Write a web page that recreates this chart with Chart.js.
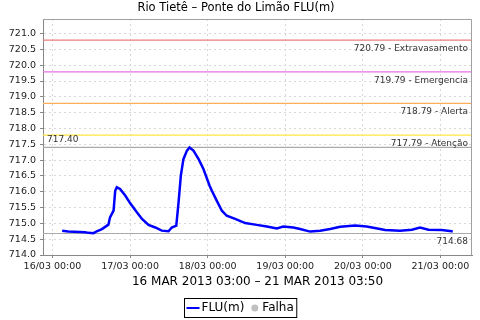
<!DOCTYPE html>
<html lang="pt">
<head>
<meta charset="utf-8">
<title>Rio Tietê - Ponte do Limão FLU(m)</title>
<script src="https://cdn.jsdelivr.net/npm/chart.js@4.4.1/dist/chart.umd.min.js"></script>
<style>
  body { margin: 0; padding: 0; background: #fff; }
</style>
</head>
<body>
<canvas id="chart" width="480" height="320"></canvas>
<script>
// hours counted from 16/03/2013 00:00
const hours = [3.0, 4.9, 10.1, 11.1, 12.7, 13.7, 15.3, 16.3, 17.3, 17.8, 18.9, 19.4, 19.9, 20.9, 22.5,
  24.0, 26.1, 27.7, 29.7, 31.8, 33.8, 35.9, 36.9, 38.3, 39.0, 39.7, 40.5, 41.6, 42.4, 43.6, 45.2,
  46.7, 48.6, 49.3, 50.8, 52.4, 53.9, 56.5, 59.6, 62.7, 66.3, 69.4, 71.4, 74.5, 76.6, 79.7, 82.8,
  85.9, 89.0, 93.6, 97.2, 101.3, 102.9, 107.5, 111.2, 113.7, 116.3, 120.4, 123.5, 123.83];
const levels = [714.77, 714.74, 714.72, 714.70, 714.69, 714.75, 714.82, 714.89, 714.96, 715.19, 715.40, 716.03, 716.14, 716.09, 715.88,
  715.64, 715.35, 715.14, 714.95, 714.87, 714.77, 714.75, 714.87, 714.93, 715.66, 716.50, 717.03, 717.30, 717.40, 717.30, 717.03,
  716.72, 716.19, 716.03, 715.72, 715.40, 715.24, 715.14, 715.01, 714.96, 714.90, 714.84, 714.90, 714.87, 714.82, 714.74, 714.77,
  714.82, 714.89, 714.93, 714.90, 714.82, 714.79, 714.77, 714.80, 714.87, 714.80, 714.79, 714.75, 714.75];

const tickHours = [0, 24, 48, 72, 96, 120];
const tickLabels = ['16/03 00:00', '17/03 00:00', '18/03 00:00', '19/03 00:00', '20/03 00:00', '21/03 00:00'];
const yTicks = [714.0, 714.5, 715.0, 715.5, 716.0, 716.5, 717.0, 717.5, 718.0, 718.5, 719.0, 719.5, 720.0, 720.5, 721.0];

const limitValues = [720.79, 719.79, 718.79, 717.79];
const limitNames = ['Extravasamento', 'Emergencia', 'Alerta', 'Atenção'];
const limitColors = ['#ec7c7c', '#e870e8', '#ffae58', '#ffe640'];
const maxLevel = 717.40;
const minLevel = 714.68;

const xMin = -2.93, xMax = 129.77;
const FONT = 'DejaVu Sans';

const datasets = [{
  label: 'FLU(m)',
  data: hours.map((h, i) => ({ x: h, y: levels[i] })),
  borderColor: '#0000ff',
  borderWidth: 2.5,
  pointRadius: 0,
  tension: 0
}];
limitValues.forEach((v, i) => {
  datasets.push({
    label: limitNames[i],
    data: [{ x: xMin, y: v }, { x: xMax, y: v }],
    borderColor: limitColors[i], borderWidth: 1.2, pointRadius: 0
  });
});
[maxLevel, minLevel].forEach(v => {
  datasets.push({
    label: String(v),
    data: [{ x: xMin, y: v }, { x: xMax, y: v }],
    borderColor: '#aaaaaa', borderWidth: 1.2, pointRadius: 0
  });
});

const extras = {
  id: 'extras',
  afterDatasetsDraw(chart) {
    const { ctx, chartArea: a, scales: { y } } = chart;
    ctx.save();
    ctx.font = '9px "' + FONT + '"';
    ctx.fillStyle = '#333';
    ctx.textBaseline = 'middle';
    ctx.textAlign = 'right';
    limitValues.forEach((v, i) => {
      ctx.fillText(v.toFixed(2) + ' - ' + limitNames[i], a.right - 4, y.getPixelForValue(v) + 8.5);
    });
    ctx.fillText(minLevel.toFixed(2), a.right - 4, y.getPixelForValue(minLevel) + 8);
    ctx.textAlign = 'left';
    ctx.fillText(maxLevel.toFixed(2), a.left + 4, y.getPixelForValue(maxLevel) - 8);
    // frame top/right
    ctx.strokeStyle = '#a0a0a0';
    ctx.lineWidth = 1;
    ctx.beginPath();
    ctx.moveTo(a.left, a.top + 0.5);
    ctx.lineTo(a.right - 0.5, a.top + 0.5);
    ctx.lineTo(a.right - 0.5, a.bottom);
    ctx.stroke();
    ctx.restore();
  },
  afterDraw(chart) {
    // legend box
    const ctx = chart.ctx;
    ctx.save();
    ctx.font = '12px "' + FONT + '"';
    const w1 = ctx.measureText('FLU(m)').width;
    const w2 = ctx.measureText('Falha').width;
    const total = 2 + 13 + 2 + w1 + 7 + 7 + 4 + w2 + 3;
    const x0 = Math.round(chart.width / 2 - total / 2) + 0.5;
    const top = 298.5, h = 19, cy = top + h / 2;
    ctx.strokeStyle = '#000';
    ctx.lineWidth = 1;
    ctx.strokeRect(x0, top, total, h);
    let x = x0 + 2;
    ctx.strokeStyle = '#0000ff';
    ctx.lineWidth = 2;
    ctx.beginPath();
    ctx.moveTo(x, cy); ctx.lineTo(x + 13, cy); ctx.stroke();
    x += 15;
    ctx.fillStyle = '#000';
    ctx.textBaseline = 'middle';
    ctx.fillText('FLU(m)', x, cy);
    x += w1 + 7;
    ctx.fillStyle = '#c0c0c0';
    ctx.beginPath();
    ctx.arc(x + 3.5, cy, 3.5, 0, Math.PI * 2); ctx.fill();
    x += 11;
    ctx.fillStyle = '#000';
    ctx.fillText('Falha', x, cy);
    ctx.restore();
  }
};

new Chart(document.getElementById('chart'), {
  type: 'line',
  data: { datasets },
  plugins: [extras],
  options: {
    responsive: false,
    animation: false,
    layout: { padding: { left: 0, right: 8, top: 0, bottom: 24 } },
    plugins: {
      legend: { display: false },
      tooltip: { enabled: false },
      title: {
        display: true,
        text: 'Rio Tietê – Ponte do Limão FLU(m)',
        color: '#000',
        font: { family: FONT, size: 11.5, weight: 'normal' },
        padding: { top: 1.5, bottom: 3.7 }
      }
    },
    scales: {
      x: {
        type: 'linear',
        min: xMin,
        max: xMax,
        afterBuildTicks: s => { s.ticks = tickHours.map(v => ({ value: v })); },
        afterFit: s => { s.height = 41; },
        ticks: {
          callback: (v, i) => tickLabels[i],
          autoSkip: false, maxRotation: 0, padding: 3,
          color: '#222', font: { family: FONT, size: 9.5 }
        },
        grid: { color: '#d8d8d8', tickLength: 3, tickColor: '#888', tickBorderDash: [] },
        border: { color: '#888', dash: [2, 3] },
        title: {
          display: true,
          text: '16 MAR 2013 03:00 – 21 MAR 2013 03:50',
          color: '#000',
          font: { family: FONT, size: 12 },
          padding: { top: 0, bottom: 7 }
        }
      },
      y: {
        min: 714.0,
        max: 721.46,
        afterBuildTicks: s => { s.ticks = yTicks.map(v => ({ value: v })); },
        afterFit: s => { s.width = 43; },
        ticks: {
          callback: v => v.toFixed(1),
          padding: 4,
          color: '#222', font: { family: FONT, size: 9.5 }
        },
        grid: { color: '#d8d8d8', tickLength: 3, tickColor: '#888', tickBorderDash: [] },
        border: { color: '#888', dash: [2, 3] }
      }
    }
  }
});
</script>
</body>
</html>
